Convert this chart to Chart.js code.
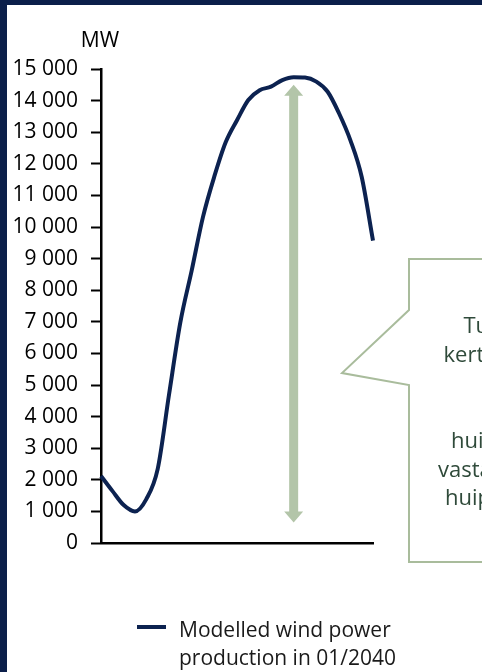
<!DOCTYPE html>
<html>
<head>
<meta charset="utf-8">
<script src="https://cdn.jsdelivr.net/npm/chart.js@4.4.0/dist/chart.umd.min.js"></script>
<style>
  html, body { margin: 0; padding: 0; background: #0b1f4a; overflow: hidden; }
  #wrap { position: absolute; left: 7px; top: 5px; width: 475px; height: 667px; background: #fff; }
</style>
</head>
<body>
<div id="wrap"><canvas id="windChart" width="475" height="667"></canvas></div>
<script>
// data (MW)
var hours = ["0", "1", "2", "3", "4", "5", "6", "7", "8", "9", "10", "11", "12",
  "13", "14", "15", "16", "17", "18", "19", "20", "21", "22", "23", "24"];
var windMW = [2120, 1650, 1200, 1000, 1390, 2340, 4690, 6980, 8620, 10320, 11600, 12680, 13380,
  14020, 14330, 14440, 14650, 14740, 14730, 14600, 14280, 13600, 12750, 11590, 9570];
var yMin = 0;
var yMax = 15000;
var yStep = 1000;
var unitLabel = "MW";
var legendLines = ["Modelled wind power", "production in 01/2040"];
var calloutLines = ["Tuulivoiman", "kertaa", "huipun", "vastaa", "huipusta"];
var arrowAt = 17; // category index of the arrow
var arrowTop = 14500;
var arrowBottom = 650;

var navy = "#0c2250";
var green = "#b3c5a9";
var fontFamily = "'Open Sans', sans-serif";

function spaced(v) {
  return String(v).replace(/\B(?=(\d{3})+(?!\d))/g, " ");
}

var extras = {
  id: "extras",
  beforeDatasetsDraw: function (chart) {
    var ctx = chart.ctx;
    var ax = chart.scales.x.getPixelForValue(arrowAt);
    var top = chart.scales.y.getPixelForValue(arrowTop);
    var bot = chart.scales.y.getPixelForValue(arrowBottom);
    ctx.save();
    ctx.fillStyle = green;
    ctx.beginPath();
    ctx.moveTo(ax, top);
    ctx.lineTo(ax + 9.5, top + 11);
    ctx.lineTo(ax + 4.5, top + 11);
    ctx.lineTo(ax + 4.5, bot - 11);
    ctx.lineTo(ax + 9.5, bot - 11);
    ctx.lineTo(ax, bot);
    ctx.lineTo(ax - 9.5, bot - 11);
    ctx.lineTo(ax - 4.5, bot - 11);
    ctx.lineTo(ax - 4.5, top + 11);
    ctx.lineTo(ax - 9.5, top + 11);
    ctx.closePath();
    ctx.fill();
    ctx.restore();
  },
  afterDraw: function (chart) {
    var ctx = chart.ctx;
    ctx.save();
    // unit above the y axis
    ctx.fillStyle = "#000";
    ctx.font = "21px " + fontFamily;
    ctx.textAlign = "center";
    ctx.fillText(unitLabel, chart.scales.y.right - 1, 42);

    // callout box
    ctx.strokeStyle = "#a9bc9c";
    ctx.lineWidth = 2;
    ctx.fillStyle = "#fff";
    ctx.beginPath();
    ctx.moveTo(402, 254);
    ctx.lineTo(490, 254);
    ctx.lineTo(490, 557);
    ctx.lineTo(402, 557);
    ctx.lineTo(402, 380);
    ctx.lineTo(335, 368);
    ctx.lineTo(402, 305);
    ctx.closePath();
    ctx.fill();
    ctx.stroke();

    ctx.fillStyle = "#2f4a3a";
    ctx.font = "22px " + fontFamily;
    ctx.textAlign = "left";
    var cx = [456.5, 436.5, 444, 431, 438];
    var cy = [328, 357, 443, 472, 500];
    calloutLines.forEach(function (t, i) {
      ctx.fillText(t, cx[i], cy[i]);
    });

    // legend
    ctx.strokeStyle = navy;
    ctx.lineWidth = 4;
    ctx.beginPath();
    ctx.moveTo(130, 622);
    ctx.lineTo(159, 622);
    ctx.stroke();
    ctx.fillStyle = "#1a1a1a";
    ctx.font = "21px " + fontFamily;
    ctx.fillText(legendLines[0], 172, 632);
    ctx.fillText(legendLines[1], 172, 660);
    ctx.restore();
  },
};

Chart.defaults.font.family = fontFamily;
Chart.defaults.color = "#000";

var ctx = document.getElementById("windChart").getContext("2d");
var windChart = new Chart(ctx, {
  type: "line",
  data: {
    labels: hours,
    datasets: [
      {
        label: legendLines.join(" "),
        data: windMW,
        borderColor: navy,
        borderWidth: 4,
        pointRadius: 0,
        cubicInterpolationMode: "monotone",
        fill: false,
      },
    ],
  },
  options: {
    responsive: false,
    animation: false,
    layout: {
      padding: { top: 64, right: 109, bottom: 121, left: 0 },
    },
    plugins: {
      legend: { display: false },
      tooltip: { enabled: false },
    },
    scales: {
      x: {
        offset: false,
        grid: { display: false },
        ticks: { display: false },
        border: { display: true, color: "#000", width: 2.5 },
      },
      y: {
        min: yMin,
        max: yMax,
        afterFit: function (scale) {
          scale.width = 94;
        },
        ticks: {
          stepSize: yStep,
          padding: 13,
          color: "#000",
          font: { size: 21 },
          callback: function (v) {
            return spaced(v);
          },
        },
        grid: {
          drawOnChartArea: false,
          drawTicks: true,
          tickLength: 10,
          tickColor: "#000",
          tickWidth: 2,
        },
        border: { display: true, color: "#000", width: 2.5 },
      },
    },
  },
  plugins: [extras],
});
</script>
</body>
</html>
